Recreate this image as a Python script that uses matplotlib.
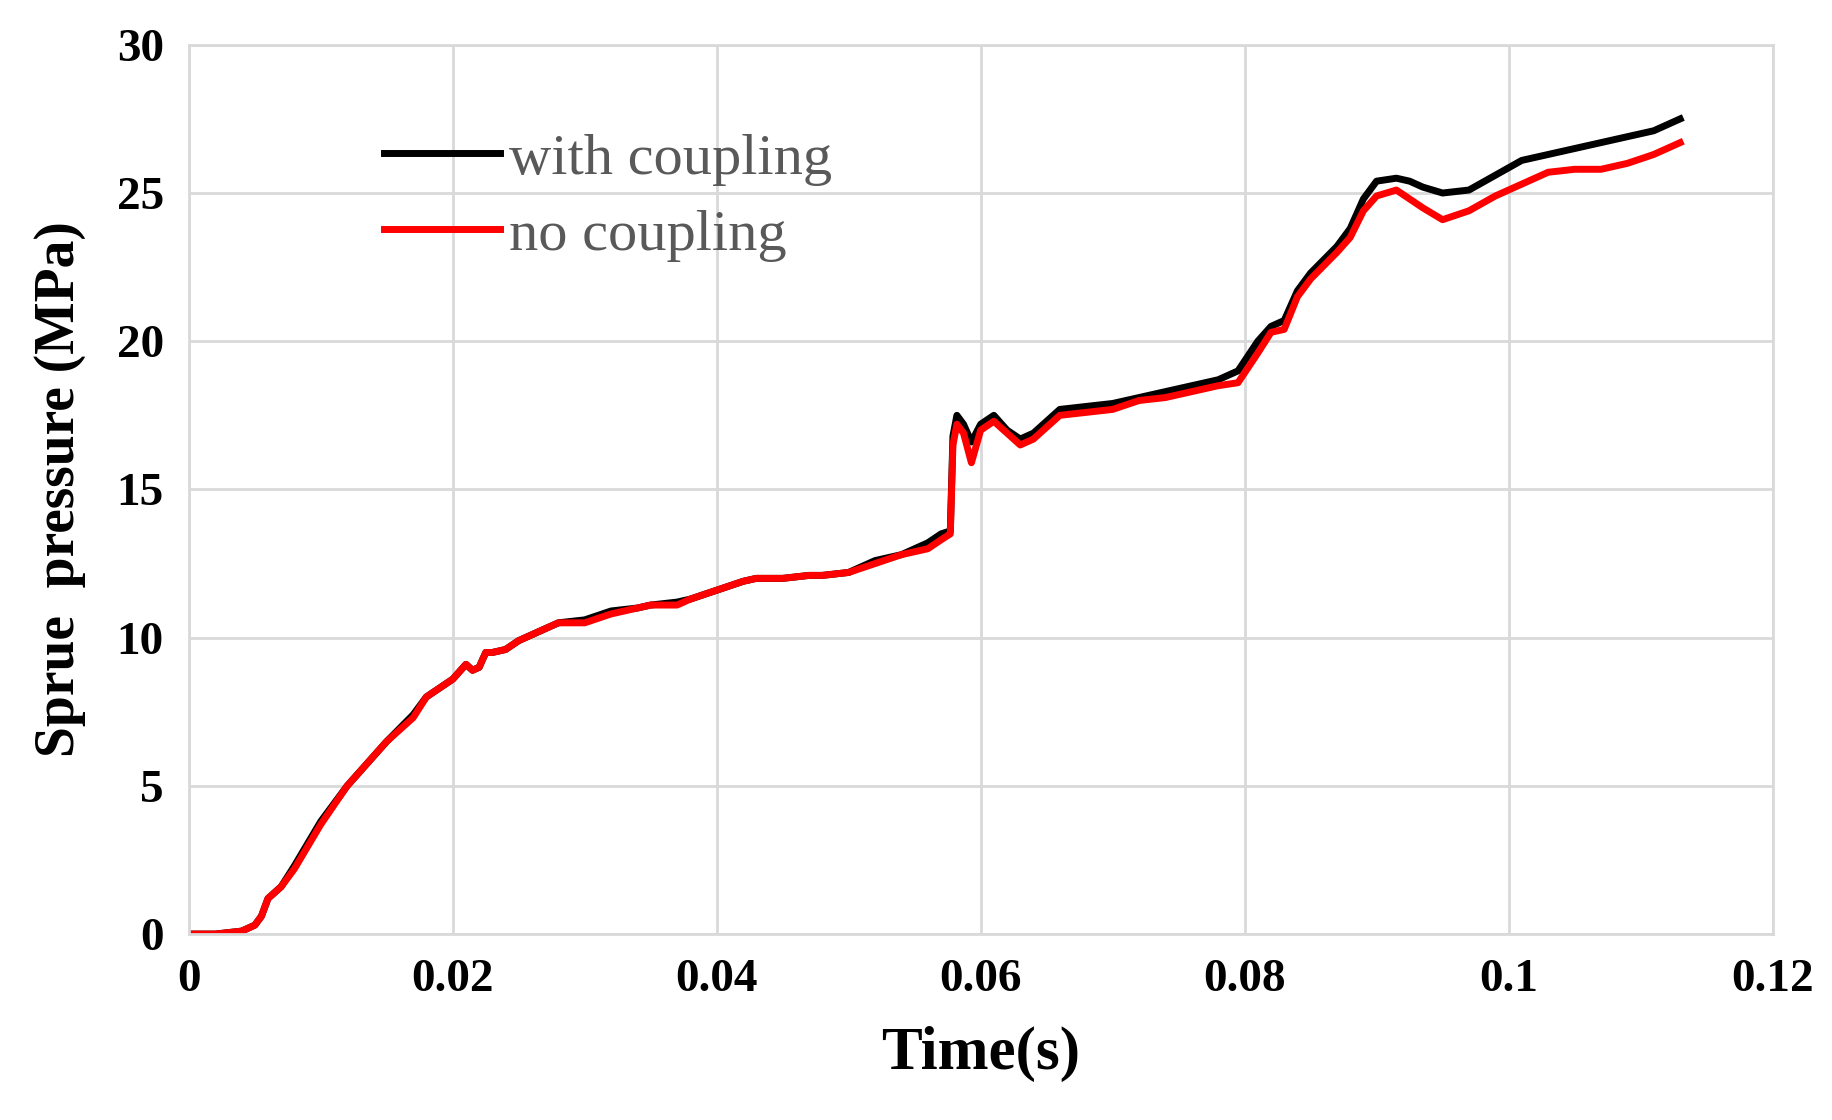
import matplotlib
matplotlib.use("Agg")
import matplotlib.pyplot as plt

t_with = [0,0.002,0.004,0.005,0.0055,0.006,0.007,0.008,0.01,0.012,0.013,0.015,0.017,0.018,0.019,0.020,0.021,0.0215,0.022,0.0225,0.023,0.024,0.025,0.027,0.028,0.030,0.032,0.034,0.035,0.037,0.038,0.040,0.042,0.043,0.045,0.047,0.048,0.050,0.052,0.054,0.056,0.057,0.0577,0.0579,0.0582,0.0587,0.0593,0.060,0.061,0.062,0.063,0.064,0.066,0.068,0.070,0.072,0.074,0.076,0.078,0.0795,0.081,0.082,0.083,0.084,0.085,0.087,0.088,0.089,0.090,0.0915,0.0925,0.0935,0.095,0.097,0.099,0.101,0.103,0.105,0.107,0.109,0.111,0.113]
p_with = [0,0,0.1,0.3,0.6,1.2,1.6,2.3,3.8,5.0,5.5,6.5,7.4,8.0,8.3,8.6,9.1,8.9,9.0,9.5,9.5,9.6,9.9,10.3,10.5,10.6,10.9,11.0,11.1,11.2,11.3,11.6,11.9,12.0,12.0,12.1,12.1,12.2,12.6,12.8,13.2,13.5,13.6,16.8,17.5,17.2,16.6,17.2,17.5,17.0,16.7,16.9,17.7,17.8,17.9,18.1,18.3,18.5,18.7,19.0,20.0,20.5,20.7,21.7,22.3,23.2,23.8,24.8,25.4,25.5,25.4,25.2,25.0,25.1,25.6,26.1,26.3,26.5,26.7,26.9,27.1,27.5]
t_no = t_with
p_no = [0,0,0.1,0.3,0.6,1.2,1.6,2.2,3.7,5.0,5.5,6.5,7.3,8.0,8.3,8.6,9.1,8.9,9.0,9.5,9.5,9.6,9.9,10.3,10.5,10.5,10.8,11.0,11.1,11.1,11.3,11.6,11.9,12.0,12.0,12.1,12.1,12.2,12.5,12.8,13.0,13.3,13.5,16.5,17.2,16.9,15.9,17.0,17.3,16.9,16.5,16.7,17.5,17.6,17.7,18.0,18.1,18.3,18.5,18.6,19.6,20.3,20.4,21.5,22.1,23.0,23.5,24.4,24.9,25.1,24.8,24.5,24.1,24.4,24.9,25.3,25.7,25.8,25.8,26.0,26.3,26.7]

fig = plt.figure(figsize=(18.33, 11.2), dpi=100)
ax = fig.add_axes([0.103, 0.166, 0.864, 0.794])
ax.plot(t_with, p_with, color="black", lw=5, label="with coupling")
ax.plot(t_no, p_no, color="#ff0000", lw=5, label="no coupling")
ax.set_xlim(0, 0.12)
ax.set_ylim(0, 30)
ax.set_xticks([0, 0.02, 0.04, 0.06, 0.08, 0.1, 0.12])
ax.set_xticklabels(["0", "0.02", "0.04", "0.06", "0.08", "0.1", "0.12"])
ax.set_yticks(range(0, 31, 5))
ax.grid(True, color="#d9d9d9", lw=2)
ax.set_axisbelow(True)
for s in ax.spines.values():
    s.set_color("#d9d9d9"); s.set_linewidth(2)
ax.tick_params(length=0, pad=18)
for lab in ax.get_xticklabels() + ax.get_yticklabels():
    lab.set_fontfamily("Liberation Serif"); lab.set_fontweight("bold"); lab.set_fontsize(34)
ax.set_xlabel("Time(s)", fontfamily="Liberation Serif", fontweight="bold", fontsize=44, labelpad=18)
ax.set_ylabel("Sprue  pressure (MPa)", fontfamily="Liberation Serif", fontweight="bold", fontsize=40, labelpad=22)
leg = ax.legend(loc="upper left", bbox_to_anchor=(0.09, 0.96), frameon=False,
                prop={"family": "Liberation Serif", "size": 42}, handlelength=2.0, handletextpad=0.15, labelspacing=0.4)
for txt in leg.get_texts():
    txt.set_color("#595959")
fig.savefig("out.png")
